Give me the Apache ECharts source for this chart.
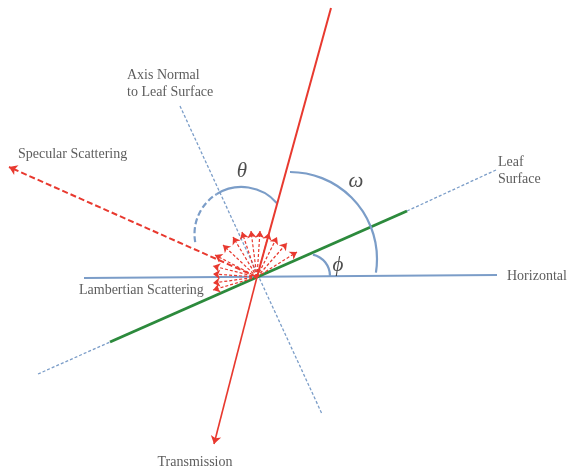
<!DOCTYPE html>
<html><head><meta charset="utf-8">
<script src="https://cdn.jsdelivr.net/npm/echarts@6/dist/echarts.min.js"></script>
<style>html,body{margin:0;padding:0;background:#fff}#c{width:568px;height:468px}</style>
</head><body><div id="c"></div>
<script>
// ---- diagram data (pixel-space coordinates on a 568 x 468 plane) ----
const origin = [257, 277];
const incidentEnd = [331, 8];
const transmissionEnd = [214, 444];
const specularEnd = [9, 167];
const lambertEnds = [[213,290],[213,283],[213,274],[213,266],[215,255],[223,245],[233,237],[242,232],[251,231],[260,231],[269,233],[277,237],[287,243],[297,252]];
const horizontalLine = [[84,278],[497,275]];
const leafSolid = [[110,342],[407,211]];
const leafDashed = [[[38,374],[110,342]], [[407,211],[496,170]]];
const normalAxis = [[180,106],[322,414]];
// arcs: [cx, cy, r, startDeg, endDeg] (degrees, counter-clockwise, y up)
const thetaArcSolid = [241.5, 234, 47, 41, 122];
const thetaArcDashed = [241.5, 234, 47, 122, 190];
const omegaArc = [290, 259, 87, -9, 90];
const phiArc = [308, 276, 22, 0, 77];
// text labels
const labelTexts = ['Axis Normal\nto Leaf Surface', 'Specular Scattering', 'Leaf\nSurface', 'Horizontal', 'Lambertian Scattering', 'Transmission'];
const labelAnchors = [[127,83.5], [18,154], [498,171], [507,276], [79,290], [195,462]];
const labelAligns = ['left','left','left','left','left','center'];
const greekTexts = ['θ', 'ω', 'ϕ'];
const greekAnchors = [[242,171], [356,181], [338,265]];

const RED = '#e8392f', BLUE = '#7b9dc8', GREEN = '#2c8a3c', TEXT = '#333333';

const chart = echarts.init(document.getElementById('c'), null, {renderer: 'canvas'});

function arcItem(a){ return {value: [a[0], a[1], a[2], a[3], a[4]]}; }

function arcRender(dashed){
  return function(params, api){
    const c = api.coord([api.value(0), api.value(1)]);
    const p2 = api.coord([api.value(0) + api.value(2), api.value(1)]);
    const r = Math.abs(p2[0] - c[0]);
    const s = -api.value(4) * Math.PI / 180;
    const e = -api.value(3) * Math.PI / 180;
    return {
      type: 'arc',
      shape: {cx: c[0], cy: c[1], r: r, startAngle: s, endAngle: e, clockwise: true},
      style: {stroke: BLUE, lineWidth: 2.2, fill: null, lineDash: dashed ? [6,3] : null}
    };
  };
}

const option = {
  animation: false,
  backgroundColor: '#fff',
  grid: {left: 0, right: 0, top: 0, bottom: 0},
  xAxis: {type: 'value', min: 0, max: 568, show: false},
  yAxis: {type: 'value', min: 0, max: 468, inverse: true, show: false},
  series: [
    {type: 'lines', coordinateSystem: 'cartesian2d', symbol: 'none', z: 1,
     lineStyle: {color: BLUE, width: 1.3, type: [3,2], opacity: 1},
     data: [{coords: normalAxis}].concat(leafDashed.map(d => ({coords: d})))},
    {type: 'lines', coordinateSystem: 'cartesian2d', symbol: 'none', z: 1,
     lineStyle: {color: BLUE, width: 1.8, opacity: 1},
     data: [{coords: horizontalLine}]},
    {type: 'lines', coordinateSystem: 'cartesian2d', symbol: 'none', z: 2,
     lineStyle: {color: GREEN, width: 3, opacity: 1},
     data: [{coords: leafSolid}]},
    {type: 'custom', coordinateSystem: 'cartesian2d', renderItem: arcRender(false), z: 2,
     data: [arcItem(thetaArcSolid), arcItem(omegaArc), arcItem(phiArc)]},
    {type: 'custom', coordinateSystem: 'cartesian2d', renderItem: arcRender(true), z: 2,
     data: [arcItem(thetaArcDashed)]},
    {type: 'lines', coordinateSystem: 'cartesian2d', symbol: ['none','arrow'], symbolSize: 7, z: 3,
     lineStyle: {color: RED, width: 1.2, type: [3,2], opacity: 1},
     data: lambertEnds.map(e => ({coords: [origin, e]}))},
    {type: 'lines', coordinateSystem: 'cartesian2d', symbol: ['none','arrow'], symbolSize: 8, z: 4,
     lineStyle: {color: RED, width: 2, type: [6,3], opacity: 1},
     data: [{coords: [origin, specularEnd]}]},
    {type: 'lines', coordinateSystem: 'cartesian2d', symbol: 'none', z: 4,
     lineStyle: {color: RED, width: 2, opacity: 1},
     data: [{coords: [incidentEnd, origin]}]},
    {type: 'lines', coordinateSystem: 'cartesian2d', symbol: ['none','arrow'], symbolSize: 8, z: 4,
     lineStyle: {color: RED, width: 1.6, opacity: 1},
     data: [{coords: [origin, transmissionEnd]}]},
    {type: 'scatter', symbolSize: 0, z: 5, silent: true,
     data: labelTexts.map((t, i) => ({value: labelAnchors[i], name: t,
       label: {align: labelAligns[i]}})),
     label: {show: true, position: 'inside', verticalAlign: 'middle', formatter: p => p.name,
       color: TEXT, fontFamily: 'Liberation Serif', fontSize: 14, lineHeight: 17}},
    {type: 'scatter', symbolSize: 0, z: 5, silent: true,
     data: greekTexts.map((t, i) => ({value: greekAnchors[i], name: t})),
     label: {show: true, position: 'inside', align: 'center', verticalAlign: 'middle', formatter: p => p.name,
       color: '#222', fontFamily: 'Liberation Serif', fontStyle: 'italic', fontSize: 21}}
  ]
};
chart.setOption(option);
</script></body></html>
